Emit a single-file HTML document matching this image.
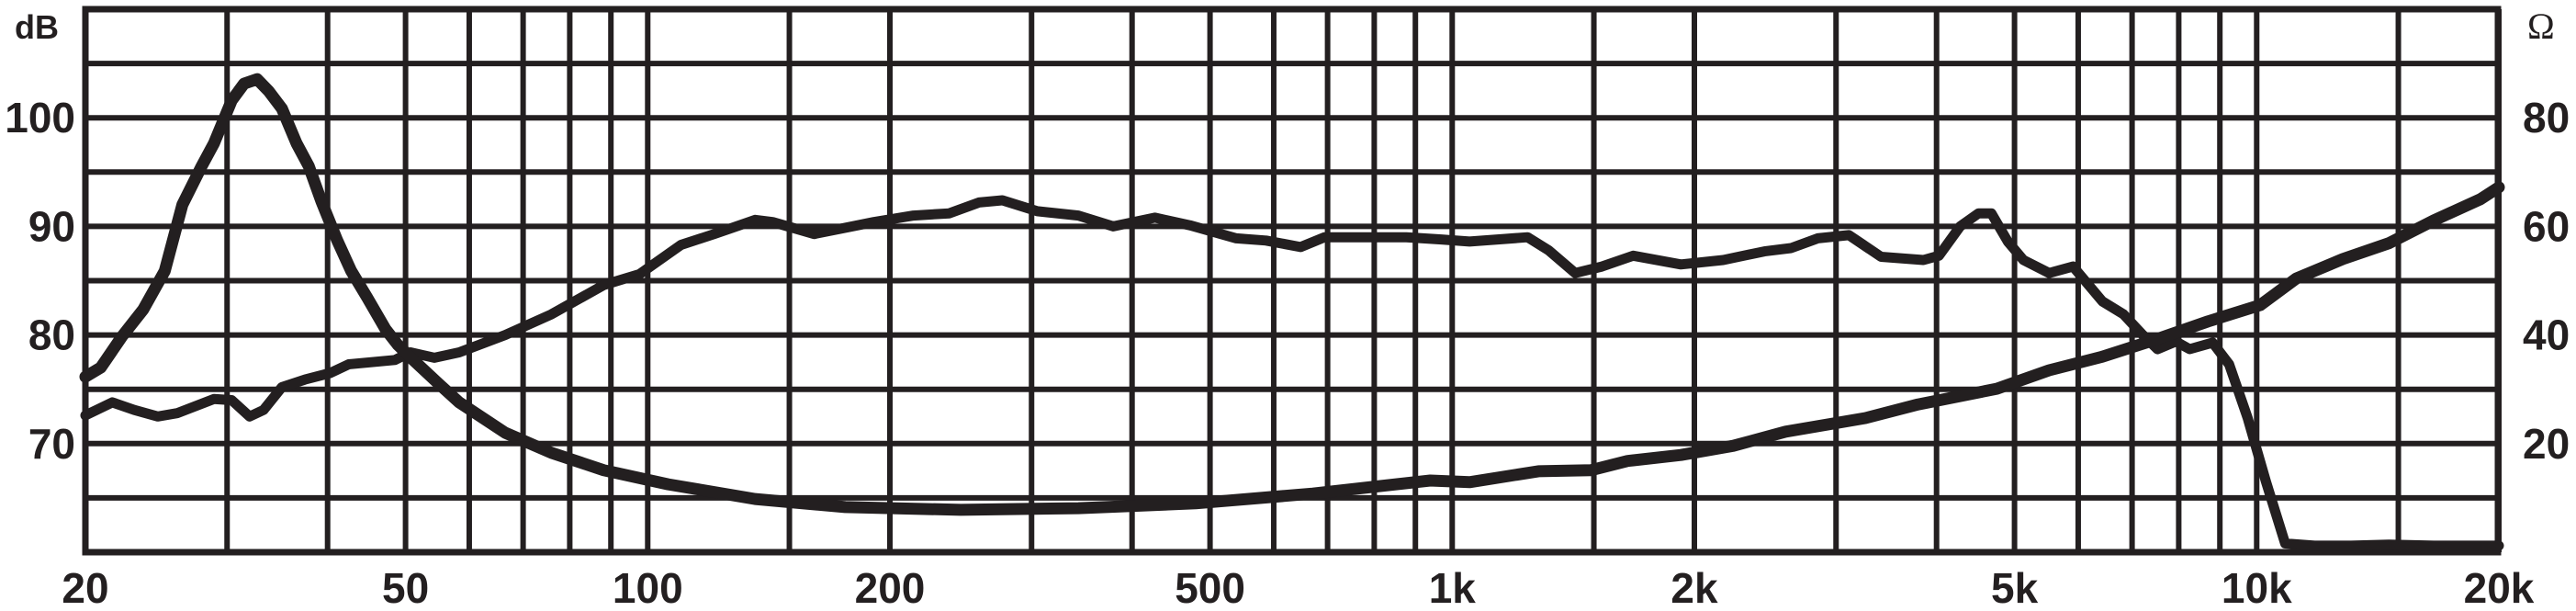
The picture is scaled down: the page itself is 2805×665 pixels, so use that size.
<!DOCTYPE html>
<html><head><meta charset="utf-8"><style>
html,body{margin:0;padding:0;background:#fff;}
svg{display:block;}
text{font-family:"Liberation Sans",sans-serif;font-weight:bold;fill:#231f20;}
</style></head>
<body>
<svg id="chart" width="2805" height="665" viewBox="0 0 2805 665" xmlns="http://www.w3.org/2000/svg">
<g id="grid"></g>
<g id="labels"></g>
<g id="series"></g>
</svg>
<script>
// ---- data ----
const gridFreqs = [20,30,40,50,60,70,80,90,100,150,200,300,400,500,600,700,800,900,1000,1500,2000,3000,4000,5000,6000,7000,8000,9000,10000,15000,20000];
const xTickValues = [20,50,100,200,500,1000,2000,5000,10000,20000];
const xTickLabels = ["20","50","100","200","500","1k","2k","5k","10k","20k"];
const dbTicks = [70,80,90,100];
const ohmTicks = [20,40,60,80];
const splFreq = [20,21.6,23.0,24.6,26.0,28.9,30.4,32.0,33.3,35.1,37.5,40.3,42.5,48.5,50.7,54.3,58.3,66.5,75.9,88.2,97.7,110,121,136,143,161,191,214,237,258,276,305,343,379,427,472,539,587,648,694,877,969,1051,1241,1318,1422,1535,1679,1924,2172,2444,2638,2847,3113,3413,3852,4027,4280,4510,4679,4905,5129,5521,5912,6430,6830,7198,7528,7934,8254,8814,9243,9741,10270,10540,10850,11800,13100,14600,16600,20000];
const splDb = [72.6,73.8,73.1,72.5,72.8,74.1,74.0,72.5,73.1,75.2,75.9,76.5,77.3,77.7,78.4,77.9,78.4,80.0,81.9,84.6,85.6,88.3,89.3,90.6,90.4,89.3,90.4,91.0,91.2,92.2,92.4,91.4,91.0,90.0,90.8,90.1,88.9,88.7,88.1,89.0,89.0,88.8,88.6,89.0,87.8,85.7,86.3,87.3,86.5,86.9,87.7,88.0,88.9,89.2,87.2,86.9,87.3,90.0,91.2,91.2,88.6,86.9,85.7,86.3,83.1,81.9,80.1,78.7,79.4,78.7,79.3,77.3,72.4,66.5,63.8,60.8,60.6,60.6,60.7,60.6,60.6];
const impFreq = [20,20.9,22.2,23.6,25.1,26.4,27.9,28.9,30.4,31.5,32.7,33.8,35.1,36.6,37.9,39.3,41.1,42.8,44.8,47.2,48.9,51.1,54.9,58.3,66.5,75.9,88.2,106,136,176,245,343,480,671,939,1051,1280,1487,1652,1924,2236,2597,3264,3792,4753,5521,6430,7468,8700,10100,11200,12800,14600,16600,18970,20000];
const impOhm = [32.3,34.0,39.7,44.7,51.8,64.0,71.1,75.3,83.2,86.3,87.1,84.9,81.7,75.3,71.1,64.6,57.5,51.8,46.9,41.1,38.2,35.4,31.1,27.6,22.0,18.3,15.1,12.5,9.8,8.3,7.8,8.1,9.0,10.8,13.2,12.9,14.9,15.1,16.8,17.9,19.6,22.2,24.7,27.2,30.1,33.5,36.0,39.1,42.5,45.5,50.4,54.0,56.9,61.1,65.0,67.2];

// ---- scales ----
const X0 = 93, PX_DEC = 876, TOP = 10, BOT = 601, RIGHT = 2720;
function xScale(f){ return X0 + PX_DEC*Math.log10(f/20); }
function yDb(d){ return TOP + (110-d)*(BOT-TOP)/50; }
function yOhm(o){ return TOP + (100-o)*(BOT-TOP)/100; }
const NS = "http://www.w3.org/2000/svg";
function mk(tag, attrs, parent){
  const e = document.createElementNS(NS, tag);
  for (const k in attrs) e.setAttribute(k, attrs[k]);
  parent.appendChild(e); return e;
}
const grid = document.getElementById('grid');
const labels = document.getElementById('labels');
const series = document.getElementById('series');
const INK = "#231f20";

// horizontal grid lines every 5 dB
for (let d = 60; d <= 110; d += 5) {
  const y = yDb(d);
  const l = mk('line', {x1: X0, x2: RIGHT, y1: y, y2: y, stroke: INK, 'stroke-width': 6}, grid);
  
  
}
// vertical grid lines
gridFreqs.forEach(f => {
  const x = xScale(f);
  const l = mk('line', {x1: x, x2: x, y1: TOP, y2: BOT, stroke: INK, 'stroke-width': 6}, grid);
  
  
});
const border = mk('rect', {x: X0, y: TOP, width: RIGHT-X0, height: BOT-TOP, fill: 'none', stroke: INK, 'stroke-width': 7}, grid);



// labels
xTickValues.forEach((f, i) => {
  const t = mk('text', {x: xScale(f), y: 656, 'text-anchor': 'middle', 'font-size': 46}, labels);
  t.textContent = xTickLabels[i];
  
  
});
dbTicks.forEach(d => {
  const t = mk('text', {x: 82, y: yDb(d)+16, 'text-anchor': 'end', 'font-size': 46}, labels);
  t.textContent = String(d);
  
  
});
ohmTicks.forEach(o => {
  const t = mk('text', {x: 2747, y: yOhm(o)+16, 'text-anchor': 'start', 'font-size': 46}, labels);
  t.textContent = String(o);
  
  
});
const dbT = mk('text', {x: 16, y: 42, 'font-size': 36}, labels);
dbT.textContent = 'dB';


const omT = mk('text', {x: 2752, y: 42, 'font-size': 40, style: 'font-family:"Liberation Serif",serif;font-weight:normal'}, labels);
omT.textContent = 'Ω';



// series
function pathFrom(fs, vs, yf){
  return fs.map((f, i) => (i ? 'L' : 'M') + xScale(f).toFixed(1) + ',' + yf(vs[i]).toFixed(1)).join(' ');
}
const spl = mk('path', {d: pathFrom(splFreq, splDb, yDb), fill: 'none', stroke: INK, 'stroke-width': 11, 'stroke-linejoin': 'round', 'stroke-linecap': 'round'}, series);


const imp = mk('path', {d: pathFrom(impFreq, impOhm, yOhm), fill: 'none', stroke: INK, 'stroke-width': 13, 'stroke-linejoin': 'round', 'stroke-linecap': 'round'}, series);


</script>
</body></html>
